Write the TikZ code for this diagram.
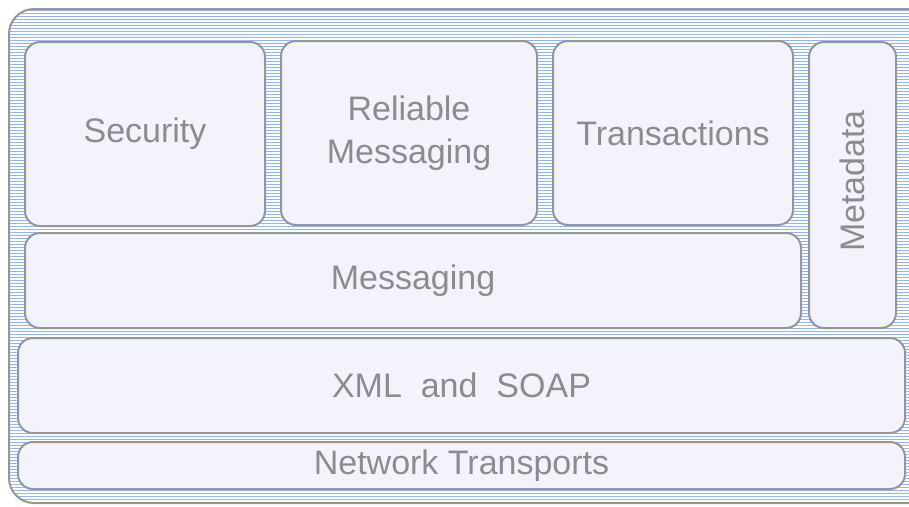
\documentclass[tikz,border=0pt]{standalone}
\usepackage{fontspec}
\setmainfont{Liberation Sans}
\usepackage{xcolor}
\definecolor{layerfill}{RGB}{243,243,253}
\definecolor{layerline}{RGB}{150,150,150}
\definecolor{layertext}{RGB}{140,140,140}
\definecolor{stripeblue}{RGB}{145,180,250}

\begin{document}
\begin{tikzpicture}[x=1pt,y=-1pt,
	layer/.style={
		draw=layerline, line width=2pt, fill=layerfill,
		rounded corners=15pt, text=layertext, align=center,
		inner sep=0pt, font=\fontsize{34}{43}\selectfont
	}]
	\useasboundingbox (0,0) rectangle (909,506);
	\tikzstyle{stripe} = [stripeblue, line width=1pt]
	\tikzstyle{frame} = [draw=layerline, line width=2pt, rounded corners=25pt]

	% striped backdrop of the stack
	\begin{scope}
		\clip[rounded corners=25pt] (9,9) rectangle (940,503);
		\foreach \y in {10,13,...,506}
			\draw[stripe] (0,\y) -- (909,\y);
	\end{scope}
	\draw[frame] (9,9) rectangle (940,503);

	\node[layer,minimum width=240pt,minimum height=184pt] (security) at (145,134) {Security};
	\node[layer,minimum width=256pt,minimum height=184pt] (reliable) at (409,133) {Reliable\\Messaging};
	\node[layer,minimum width=240pt,minimum height=184pt] (transactions) at (673,133) {Transactions};
	\node[layer,minimum width=87pt,minimum height=286pt] (metadata) at (852.5,185) {};
	\node[text=layertext,font=\fontsize{34}{41}\selectfont,rotate=90] (metalabel) at (852.5,181) {Metadata};

	\node[layer,minimum width=776pt,minimum height=95pt] (messaging) at (413,280.5) {Messaging};
	\node[layer,minimum width=887pt,minimum height=95pt] (xml) at (461.5,385.5) {XML~~and~~SOAP};
	\node[layer,minimum width=887pt,minimum height=47pt] (transports) at (461.5,465.5) {Network Transports};
\end{tikzpicture}
\end{document}
